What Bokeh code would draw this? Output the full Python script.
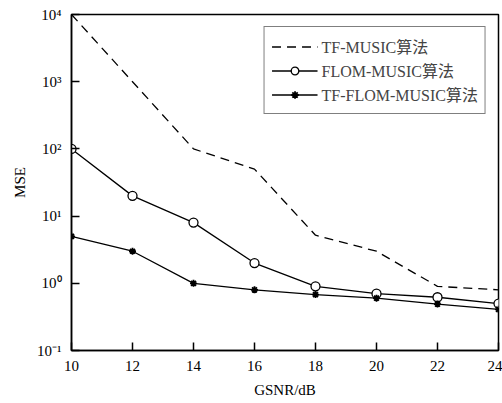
from bokeh.plotting import figure
from bokeh.models import Range1d, FixedTicker, CustomJSTickFormatter, Legend, LegendItem
from bokeh.embed import file_html
from bokeh.resources import INLINE

gsnr = [10, 12, 14, 16, 18, 20, 22, 24]
tf_music = [10000, 1000, 100, 50, 5.2, 3.0, 0.9, 0.8]
flom_music = [100, 20, 8, 2.0, 0.9, 0.7, 0.62, 0.5]
tf_flom_music = [5, 3, 1.0, 0.8, 0.68, 0.6, 0.49, 0.41]

series_names = ["TF-MUSIC算法", "FLOM-MUSIC算法", "TF-FLOM-MUSIC算法"]
x_ticks = [10, 12, 14, 16, 18, 20, 22, 24]
y_ticks = [0.1, 1, 10, 100, 1000, 10000]
y_tick_labels = ["10⁻¹", "10⁰", "10¹", "10²", "10³", "10⁴"]

SERIF = "'Liberation Serif', 'Noto Sans CJK SC'"

p = figure(width=502, height=403, y_axis_type="log",
           x_range=Range1d(10, 24), y_range=Range1d(0.1, 10000),
           output_backend="svg", toolbar_location=None,
           min_border_left=71, min_border_right=4, min_border_top=14, min_border_bottom=53)

p.grid.grid_line_color = None
p.outline_line_color = "black"
p.outline_line_width = 1.5
p.background_fill_color = "white"
p.border_fill_color = "white"

for ax in (p.xaxis[0], p.yaxis[0]):
    ax.axis_line_width = 1.5
    ax.axis_line_color = "black"
    ax.major_tick_in = 8
    ax.major_tick_out = 0
    ax.major_tick_line_width = 1.5
    ax.minor_tick_line_color = None
    ax.major_label_text_font = "Liberation Serif"
    ax.major_label_text_font_size = "15px"
    ax.major_label_text_color = "black"
    ax.axis_label_text_font = "Liberation Serif"
    ax.axis_label_text_font_size = "15px"
    ax.axis_label_text_font_style = "normal"
    ax.axis_label_text_color = "black"

p.xaxis.ticker = FixedTicker(ticks=x_ticks)
p.xaxis.axis_label = "GSNR/dB"
p.xaxis.major_label_standoff = 10
p.xaxis.axis_label_standoff = 8

p.yaxis.ticker = FixedTicker(ticks=y_ticks)
p.yaxis.formatter = CustomJSTickFormatter(args=dict(labels=y_tick_labels),
                                          code="return labels[Math.round(Math.log10(tick)) + 1];")
p.yaxis.axis_label = "MSE"
p.yaxis.major_label_standoff = 10
p.yaxis.axis_label_standoff = 6

r1 = p.line(gsnr, tf_music, line_color="black", line_width=1.3, line_dash="9 6")
r2 = p.line(gsnr, flom_music, line_color="black", line_width=1.3)
r2m = p.scatter(gsnr, flom_music, marker="circle", size=9, line_color="black",
                fill_color="white", line_width=1.3)
r3 = p.line(gsnr, tf_flom_music, line_color="black", line_width=1.3)
r3m = p.scatter(gsnr, tf_flom_music, marker="asterisk", size=7, line_color="black",
                line_width=1.8)

legend = Legend(items=[
    LegendItem(label=series_names[0], renderers=[r1]),
    LegendItem(label=series_names[1], renderers=[r2, r2m]),
    LegendItem(label=series_names[2], renderers=[r3, r3m]),
], location="top_right")
legend.margin = 12
legend.padding = 7
legend.spacing = 0
legend.label_height = 19
legend.glyph_height = 19
legend.glyph_width = 46
legend.label_standoff = 4
legend.label_text_font = SERIF
legend.label_text_font_size = "16px"
legend.border_line_color = "black"
legend.border_line_width = 1.5
legend.background_fill_alpha = 1
p.add_layout(legend)

open("out.html", "w").write(file_html(p, INLINE))
